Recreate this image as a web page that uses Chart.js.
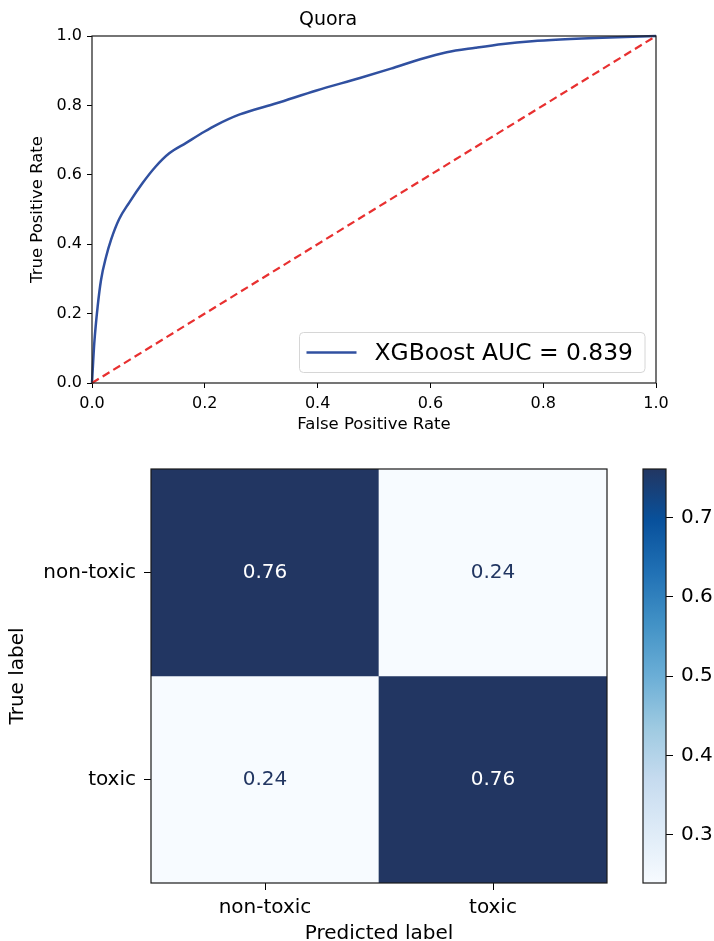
<!DOCTYPE html>
<html><head><meta charset="utf-8">
<script src="https://cdn.jsdelivr.net/npm/chart.js@4"></script>
<style>
html,body{margin:0;padding:0;background:#fff;overflow:hidden;width:714px;height:941px;}
canvas{position:absolute;}
</style></head><body>
<canvas id="roc" width="714" height="445" style="left:0;top:0"></canvas>
<canvas id="cm" width="630" height="510" style="left:0;top:445px"></canvas>
<canvas id="cbar" width="84" height="496" style="left:630px;top:445px"></canvas>
<script>
// ---------- data ----------
const rocTitle = 'Quora';
const rocFpr = [0, 0.002, 0.004, 0.010, 0.016, 0.025, 0.034, 0.048, 0.066, 0.090, 0.113, 0.137, 0.167, 0.199, 0.221, 0.262, 0.327, 0.398, 0.475, 0.530, 0.582, 0.629, 0.680, 0.729, 0.780, 0.830, 0.918, 1.0];
const rocTpr = [0, 0.060, 0.114, 0.220, 0.297, 0.364, 0.414, 0.472, 0.520, 0.577, 0.624, 0.662, 0.692, 0.724, 0.744, 0.774, 0.806, 0.843, 0.879, 0.906, 0.933, 0.953, 0.966, 0.977, 0.985, 0.990, 0.996, 1.0];
const chanceFpr = [0, 1];
const chanceTpr = [0, 1];
const rocTicks = [0, 0.2, 0.4, 0.6, 0.8, 1.0];
const aucLabel = 'XGBoost AUC = 0.839';

const predLabels = ['non-toxic', 'toxic'];
const trueLabels = ['non-toxic', 'toxic'];
const cmRowNonToxic = [0.761, 0.239];
const cmRowToxic = [0.239, 0.761];
const cbarTicks = [0.3, 0.4, 0.5, 0.6, 0.7];

// ---------- styles ----------
Chart.defaults.font.family = '"DejaVu Sans", sans-serif';
Chart.defaults.color = '#000';
const FG = '#000';
const blueLine = '#3050a0';
const redLine = '#e83030';
const cmapStops = ['#f7fbff','#deebf7','#c6dbef','#9ecae1','#6baed6','#4292c6','#2171b5','#08519c','#223662'];
const cmRows = [cmRowNonToxic, cmRowToxic];
const allVals = cmRows.flat();
const vmin = Math.min(...allVals), vmax = Math.max(...allVals);

function hexToRgb(h){return [parseInt(h.slice(1,3),16),parseInt(h.slice(3,5),16),parseInt(h.slice(5,7),16)];}
function cmap(t){
  t = Math.max(0, Math.min(1, t));
  const n = cmapStops.length - 1;
  const i = Math.min(n - 1, Math.floor(t * n));
  const f = t * n - i;
  const a = hexToRgb(cmapStops[i]), b = hexToRgb(cmapStops[i+1]);
  const c = a.map((v,k)=>Math.round(v + (b[k]-v)*f));
  return `rgb(${c[0]},${c[1]},${c[2]})`;
}
const norm = v => (v - vmin) / (vmax - vmin);

const framePlugin = {
  id: 'frame',
  afterDatasetsDraw(chart) {
    const {ctx, chartArea: a} = chart;
    ctx.save();
    ctx.strokeStyle = '#1a1a1a';
    ctx.lineWidth = 1.2;
    ctx.strokeRect(a.left, a.top, a.right - a.left, a.bottom - a.top);
    ctx.restore();
  }
};

// ---------- ROC chart ----------
const rocLegendPlugin = {
  id: 'rocLegend',
  afterDraw(chart) {
    const {ctx, chartArea: a} = chart;
    const ds = chart.data.datasets[0];
    ctx.save();
    ctx.font = '23.4px "DejaVu Sans", sans-serif';
    const tw = ctx.measureText(ds.label).width;
    const padL = 7, lineLen = 50, gap = 18, padR = 12, h = 40;
    const w = padL + lineLen + gap + tw + padR;
    const right = a.right - 11, bottom = a.bottom - 10.5;
    const x = right - w, y = bottom - h;
    ctx.beginPath();
    ctx.roundRect(x, y, w, h, 4);
    ctx.fillStyle = 'rgba(255,255,255,0.85)';
    ctx.fill();
    ctx.strokeStyle = '#d6d6d6';
    ctx.lineWidth = 1;
    ctx.stroke();
    const cy = y + h/2;
    ctx.beginPath();
    ctx.moveTo(x + padL, cy);
    ctx.lineTo(x + padL + lineLen, cy);
    ctx.strokeStyle = ds.borderColor;
    ctx.lineWidth = ds.borderWidth;
    ctx.stroke();
    ctx.fillStyle = '#000';
    ctx.textBaseline = 'middle';
    ctx.textAlign = 'left';
    ctx.fillText(ds.label, x + padL + lineLen + gap, cy + 1);
    ctx.restore();
  }
};

new Chart(document.getElementById('roc'), {
  type: 'line',
  data: {
    datasets: [
      { label: aucLabel, data: rocFpr.map((x,i)=>({x, y: rocTpr[i]})), borderColor: blueLine, borderWidth: 2.5,
        pointRadius: 0, fill: false, cubicInterpolationMode: 'monotone', clip: 4, order: 1 },
      { label: 'chance', data: chanceFpr.map((x,i)=>({x, y: chanceTpr[i]})), borderColor: redLine, borderWidth: 2.2,
        borderDash: [8, 4.5], pointRadius: 0, fill: false, clip: 4, order: 0 }
    ]
  },
  options: {
    responsive: false, animation: false, events: [],
    layout: { padding: { left: 0, right: 58, top: 0, bottom: 0 } },
    plugins: {
      legend: { display: false }, tooltip: { enabled: false },
      title: { display: true, text: rocTitle, color: FG, font: { size: 19, weight: 'normal' }, padding: { top: 8.6, bottom: 4.6 } }
    },
    scales: {
      x: { type: 'linear', min: 0, max: 1,
        afterBuildTicks: s => { s.ticks = rocTicks.map(v => ({ value: v })); },
        ticks: { callback: v => v.toFixed(1), font: { size: 16 }, color: FG, padding: 6, maxRotation: 0 },
        grid: { drawOnChartArea: false, tickLength: 5, color: FG },
        border: { display: false },
        title: { display: true, text: 'False Positive Rate', color: FG, font: { size: 16.5 }, padding: { top: 0, bottom: 10 } },
        afterFit: s => { s.height = 62; } },
      y: { type: 'linear', min: 0, max: 1,
        afterBuildTicks: s => { s.ticks = rocTicks.map(v => ({ value: v })); },
        ticks: { callback: v => v.toFixed(1), font: { size: 16 }, color: FG, padding: 5 },
        grid: { drawOnChartArea: false, tickLength: 5, color: FG },
        border: { display: false },
        title: { display: true, text: 'True Positive Rate', color: FG, font: { size: 16.5 }, padding: { top: 28, bottom: 0 } },
        afterFit: s => { s.width = 92; } }
    }
  },
  plugins: [framePlugin, rocLegendPlugin]
});

// ---------- confusion matrix ----------
const nRows = trueLabels.length;
const cmDatasets = cmRows.map((row, r) => ({
  label: trueLabels[r],
  data: row.map(() => [nRows - 1 - r, nRows - r]),
  values: row,
  backgroundColor: row.map(v => cmap(norm(v))),
  borderWidth: 0, grouped: false, barPercentage: 1, categoryPercentage: 1
}));

const cellTextPlugin = {
  id: 'cellText',
  afterDatasetsDraw(chart) {
    const {ctx} = chart;
    ctx.save();
    ctx.font = '20px "DejaVu Sans", sans-serif';
    ctx.textAlign = 'center';
    ctx.textBaseline = 'middle';
    chart.data.datasets.forEach((ds, di) => {
      chart.getDatasetMeta(di).data.forEach((el, i) => {
        const v = ds.values[i];
        ctx.fillStyle = norm(v) > 0.5 ? '#ffffff' : cmap(1);
        ctx.fillText(v.toFixed(2), el.x, (el.y + el.base) / 2);
      });
    });
    ctx.restore();
  }
};

new Chart(document.getElementById('cm'), {
  type: 'bar',
  data: { labels: predLabels, datasets: cmDatasets },
  options: {
    responsive: false, animation: false, events: [],
    layout: { padding: { left: 0, right: 23, top: 24, bottom: 0 } },
    plugins: { legend: { display: false }, tooltip: { enabled: false } },
    scales: {
      x: { type: 'category', offset: true,
        grid: { offset: false, drawOnChartArea: false, tickLength: 7, color: FG },
        border: { display: false },
        ticks: { font: { size: 20 }, color: FG, padding: 6, maxRotation: 0 },
        title: { display: true, text: 'Predicted label', color: FG, font: { size: 20 }, padding: { top: 0, bottom: 9 } },
        afterFit: s => { s.height = 72; } },
      y: { type: 'linear', min: 0, max: nRows,
        afterBuildTicks: s => { s.ticks = trueLabels.map((_, r) => ({ value: nRows - 1 - r + 0.5 })); },
        ticks: { callback: v => trueLabels[nRows - 1 - Math.floor(v)], font: { size: 20 }, color: FG, padding: 8 },
        grid: { drawOnChartArea: false, tickLength: 7, color: FG },
        border: { display: false },
        title: { display: true, text: 'True label', color: FG, font: { size: 20 }, padding: { top: 5.5, bottom: 0 } },
        afterFit: s => { s.width = 151; } }
    }
  },
  plugins: [framePlugin, cellTextPlugin]
});

// ---------- colorbar ----------
new Chart(document.getElementById('cbar'), {
  type: 'bar',
  data: { labels: [''], datasets: [{
    data: [[vmin, vmax]],
    backgroundColor: (c) => {
      const chart = c.chart;
      if (!chart.chartArea) return cmap(0.5);
      const y = chart.scales.y;
      const g = chart.ctx.createLinearGradient(0, y.getPixelForValue(vmin), 0, y.getPixelForValue(vmax));
      cmapStops.forEach((col, i) => g.addColorStop(i / (cmapStops.length - 1), col));
      return g;
    },
    borderWidth: 0, barPercentage: 1, categoryPercentage: 1
  }]},
  options: {
    responsive: false, animation: false, events: [],
    layout: { padding: { left: 13, right: 0, top: 24, bottom: 58 } },
    plugins: { legend: { display: false }, tooltip: { enabled: false } },
    scales: {
      x: { display: false },
      y: { type: 'linear', position: 'right', min: vmin, max: vmax,
        afterBuildTicks: s => { s.ticks = cbarTicks.map(v => ({ value: v })); },
        ticks: { callback: v => v.toFixed(1), font: { size: 20 }, color: FG, padding: 8 },
        grid: { drawOnChartArea: false, tickLength: 7, color: FG },
        border: { display: false },
        afterFit: s => { s.width = 48; } }
    }
  },
  plugins: [framePlugin]
});
</script>
</body></html>
